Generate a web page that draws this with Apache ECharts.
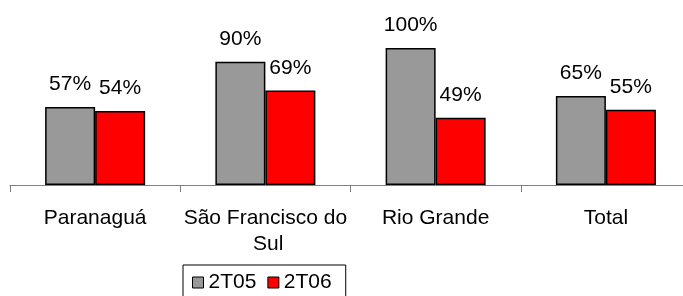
<!DOCTYPE html>
<html>
<head>
<meta charset="utf-8">
<script src="https://cdn.jsdelivr.net/npm/echarts@6/dist/echarts.min.js"></script>
<style>
  html, body { margin: 0; padding: 0; background: #fff; overflow: hidden; }
  /* the axis runs past the right edge in the original, so the canvas is a bit wider than the window */
  #chart { width: 691px; height: 296px; }
</style>
</head>
<body>
<div id="chart"></div>
<script>
const categories = ['Paranaguá', 'São Francisco do Sul', 'Rio Grande', 'Total'];
const seriesNames = ['2T05', '2T06'];
const values2T05 = [57, 90, 100, 65];
const values2T06 = [54, 69, 49, 55];
const colors = ['#999999', '#ff0000'];

const font = '"Liberation Sans", Arial, sans-serif';

function makeSeries(name, data, color) {
    return {
        name: name,
        type: 'bar',
        data: data,
        barWidth: 50,
        barGap: '0%',
        itemStyle: {
            color: color,
            borderColor: '#000',
            borderWidth: 1.5
        },
        label: {
            show: true,
            position: 'top',
            distance: 12,
            formatter: '{c}%',
            color: '#000',
            fontSize: 21,
            fontFamily: font
        },
        emphasis: { disabled: true },
        animation: false
    };
}

const chart = echarts.init(document.getElementById('chart'));
chart.setOption({
    animation: false,
    grid: {
        left: 10,
        top: 48,
        right: 0,
        bottom: 111,
        containLabel: false,
        outerBoundsMode: 'none'
    },
    legend: {
        data: seriesNames,
        left: 183,
        top: 265,
        padding: [7, 14, 7, 9],
        borderColor: '#000',
        borderWidth: 1,
        itemWidth: 11,
        itemHeight: 11,
        itemGap: 11,
        icon: 'rect',
        itemStyle: { borderColor: '#000', borderWidth: 1 },
        textStyle: { fontSize: 21, color: '#000', fontFamily: font }
    },
    xAxis: {
        type: 'category',
        data: categories,
        axisLine: { lineStyle: { color: '#808080', width: 1 } },
        axisTick: { show: true, length: 7, alignWithLabel: false, lineStyle: { color: '#808080' } },
        axisLabel: {
            interval: 0,
            margin: 20,
            fontSize: 21,
            lineHeight: 26,
            color: '#000',
            fontFamily: font,
            width: 178,
            overflow: 'break'
        }
    },
    yAxis: {
        type: 'value',
        min: 0,
        max: 100,
        show: false,
        splitLine: { show: false }
    },
    series: [
        makeSeries(seriesNames[0], values2T05, colors[0]),
        makeSeries(seriesNames[1], values2T06, colors[1])
    ]
});

window.addEventListener('resize', () => chart.resize());
</script>
</body>
</html>
